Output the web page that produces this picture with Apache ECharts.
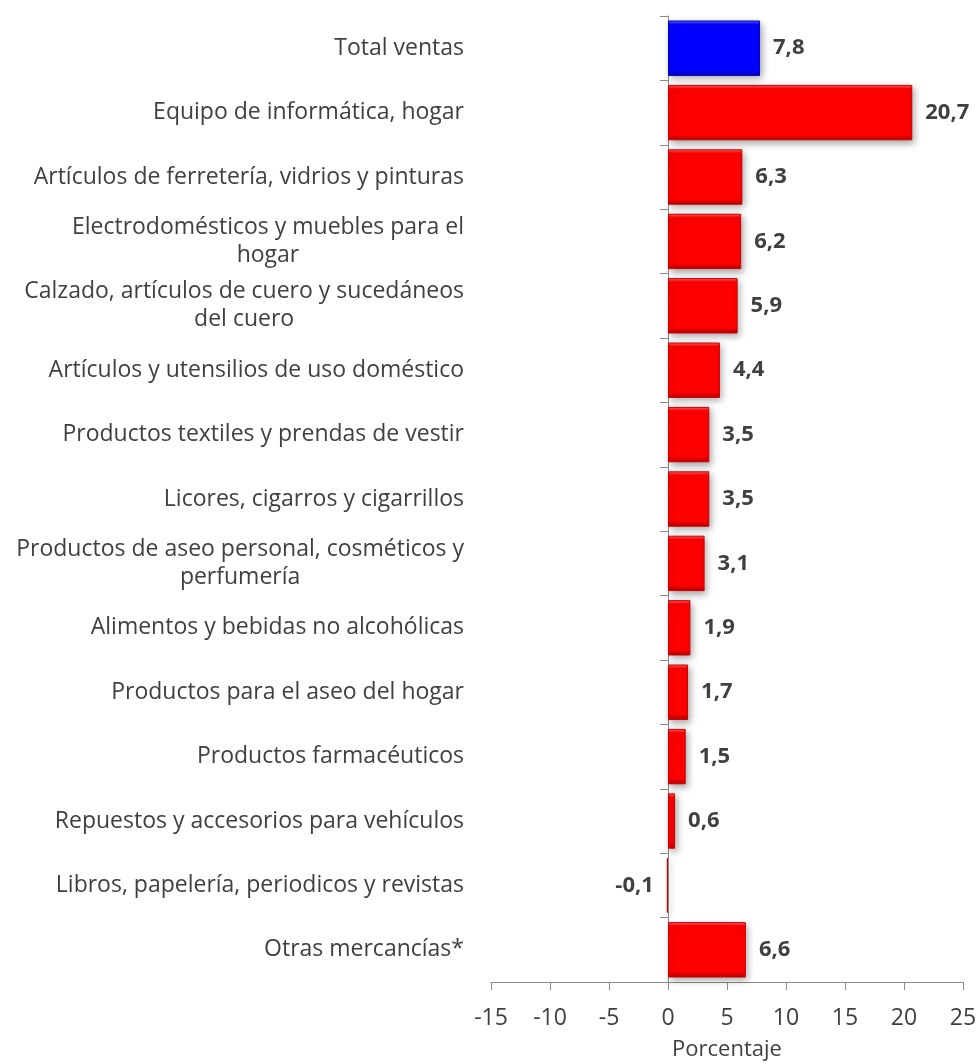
<!DOCTYPE html>
<html>
<head>
<meta charset="utf-8">
<script src="https://cdn.jsdelivr.net/npm/echarts@6/dist/echarts.min.js"></script>
<style>
  html, body { margin: 0; padding: 0; background: #fff; }
  #chart { width: 978px; height: 1064px; }
</style>
</head>
<body>
<div id="chart"></div>
<script>
// Annual variation of retail sales by merchandise line (%)
const categories = [
  'Total ventas',
  'Equipo de informática, hogar',
  'Artículos de ferretería, vidrios y pinturas',
  'Electrodomésticos y muebles para el\nhogar',
  'Calzado, artículos de cuero y sucedáneos\ndel cuero',
  'Artículos y utensilios de uso doméstico',
  'Productos textiles y prendas de vestir',
  'Licores, cigarros y cigarrillos',
  'Productos de aseo personal, cosméticos y\nperfumería',
  'Alimentos y bebidas no alcohólicas',
  'Productos para el aseo del hogar',
  'Productos farmacéuticos',
  'Repuestos y accesorios para vehículos',
  'Libros, papelería, periodicos y revistas',
  'Otras mercancías*'
];
const values = [7.8, 20.7, 6.3, 6.2, 5.9, 4.4, 3.5, 3.5, 3.1, 1.9, 1.7, 1.5, 0.6, -0.1, 6.6];
const axisMin = -15, axisMax = 25, axisStep = 5;
const axisTitle = 'Porcentaje';

const FONT = '"Open Sans", "Noto Sans", sans-serif';
const TEXT = '#404040';

// Bevelled fill: light top edge, flat body, dark bottom edge
function bevel(light, base, dark) {
  return new echarts.graphic.LinearGradient(0, 0, 0, 1, [
    { offset: 0, color: light },
    { offset: 0.07, color: base },
    { offset: 0.9, color: base },
    { offset: 1, color: dark }
  ]);
}
const redFill = bevel('#ff6a6a', '#ff0000', '#b00000');
const blueFill = bevel('#6a6aff', '#0000ff', '#0000b0');

const barData = values.map((v, i) => ({
  value: v,
  itemStyle: {
    color: i === 0 ? blueFill : redFill,
    borderColor: i === 0 ? '#0000c8' : '#c80000'
  },
  label: { position: v < 0 ? 'left' : 'right' }
}));

const chart = echarts.init(document.getElementById('chart'));
chart.setOption({
  animation: false,
  backgroundColor: '#ffffff',
  grid: { left: 491, right: 15, top: 16, bottom: 82, containLabel: false, outerBoundsMode: 'none' },
  xAxis: {
    type: 'value',
    min: axisMin,
    max: axisMax,
    interval: axisStep,
    splitLine: { show: false },
    axisLine: { show: true, onZero: false, lineStyle: { color: '#8c8c8c', width: 1 } },
    axisTick: { show: true, length: 8, lineStyle: { color: '#8c8c8c' } },
    axisLabel: { color: TEXT, fontFamily: FONT, fontSize: 23, margin: 25 },
    name: axisTitle,
    nameLocation: 'middle',
    nameGap: 57,
    nameTextStyle: { color: TEXT, fontFamily: FONT, fontSize: 22 }
  },
  yAxis: [
    {
      // axis line and ticks sitting on zero
      type: 'category',
      data: categories,
      inverse: true,
      axisLine: { show: true, onZero: true, lineStyle: { color: '#8c8c8c', width: 1 } },
      axisTick: { show: true, length: 8, lineStyle: { color: '#8c8c8c' } },
      axisLabel: { show: false },
      splitLine: { show: false }
    },
    {
      // category names along the left edge of the plot
      type: 'category',
      data: categories,
      inverse: true,
      position: 'left',
      axisLine: { show: false, onZero: false },
      axisTick: { show: false },
      splitLine: { show: false },
      axisLabel: {
        margin: 27,
        formatter: v => v.split('\n').map(l => '{c|' + l + '}').join('\n'),
        rich: {
          c: { align: 'center', color: TEXT, fontFamily: FONT, fontSize: 23, lineHeight: 28 }
        }
      }
    }
  ],
  series: [{
    type: 'bar',
    yAxisIndex: 0,
    data: barData,
    barWidth: '86%',
    itemStyle: {
      borderWidth: 1,
      shadowColor: 'rgba(0,0,0,0.35)',
      shadowBlur: 7,
      shadowOffsetX: 2,
      shadowOffsetY: 3
    },
    label: {
      show: true,
      distance: 13,
      color: TEXT,
      fontFamily: FONT,
      fontWeight: 'bold',
      fontSize: 22,
      formatter: p => p.value.toFixed(1).replace('.', ',')
    }
  }]
});
</script>
</body>
</html>
